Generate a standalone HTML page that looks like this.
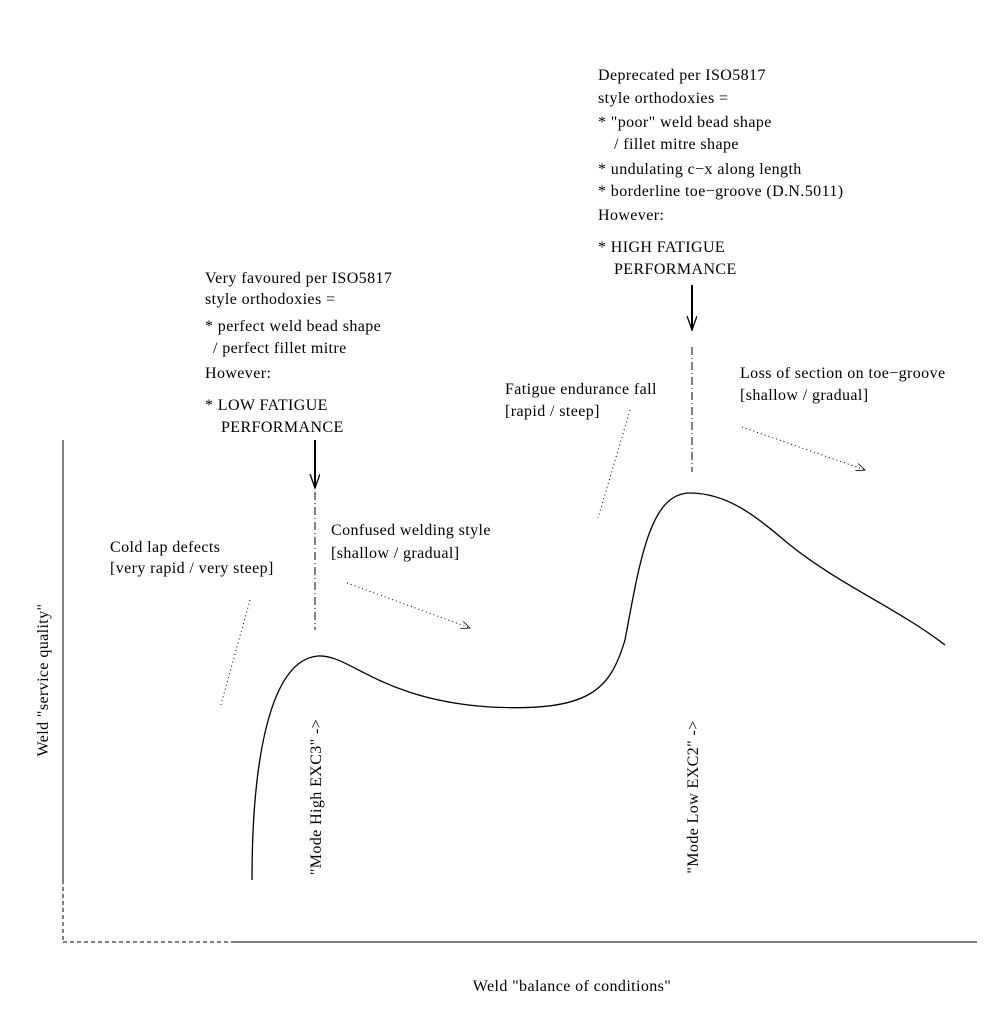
<!DOCTYPE html>
<html><head><meta charset="utf-8"><style>
html,body{margin:0;padding:0;background:#fff;}
svg text{font-family:"Liberation Serif",serif;font-size:16px;letter-spacing:0.4px;fill:#000;}
</style></head><body>
<svg width="1008" height="1008" viewBox="0 0 1008 1008" xmlns="http://www.w3.org/2000/svg">
<defs>
<marker id="ah" markerWidth="16" markerHeight="12" refX="14" refY="5" orient="auto" markerUnits="userSpaceOnUse">
<path d="M0,0 L14,5 L0,10" fill="none" stroke="#000" stroke-width="1.3"/>
</marker>
<marker id="sh" markerWidth="10" markerHeight="8" refX="9" refY="4" orient="auto" markerUnits="userSpaceOnUse">
<path d="M0,0 L9,4 L0,8" fill="none" stroke="#000" stroke-width="0.8"/>
</marker>
</defs>
<g stroke="#000" fill="none">
<line x1="63" y1="440" x2="63" y2="880" stroke-width="1"/>
<line x1="63" y1="880" x2="63" y2="942" stroke-dasharray="4,3"/>
<line x1="63" y1="942" x2="235" y2="942" stroke-dasharray="4,3"/>
<line x1="235" y1="942" x2="977" y2="942"/>
<path d="M252,880 C252,760 270,660 318,656 C350,654 380,700 490,707 C590,712 610,690 625,640 C640,560 650,493 690,493 C730,493 760,520 790,545 C840,585 900,610 945,645" stroke-width="1.3"/>
<line x1="315" y1="440" x2="315" y2="488" stroke-width="2" marker-end="url(#ah)"/>
<line x1="315" y1="492" x2="315" y2="630" stroke-dasharray="8,3,1,3"/>
<line x1="692" y1="285" x2="692" y2="330" stroke-width="2" marker-end="url(#ah)"/>
<line x1="692" y1="347" x2="692" y2="472" stroke-dasharray="8,3,1,3"/>
<g stroke-dasharray="1,3">
<line x1="250" y1="600" x2="220" y2="708"/>
<line x1="347" y1="583" x2="470" y2="628" marker-end="url(#sh)"/>
<line x1="630" y1="410" x2="598" y2="518"/>
<line x1="742" y1="427" x2="865" y2="470" marker-end="url(#sh)"/>
</g>
</g>
<text x="205" y="283">Very favoured per ISO5817</text>
<text x="205" y="304">style orthodoxies =</text>
<text x="205" y="331">* perfect weld bead shape</text>
<text x="213" y="353">/ perfect fillet mitre</text>
<text x="205" y="378">However:</text>
<text x="205" y="410">* LOW FATIGUE</text>
<text x="221" y="432">PERFORMANCE</text>
<text x="598" y="80">Deprecated per ISO5817</text>
<text x="598" y="103">style orthodoxies =</text>
<text x="598" y="127">* "poor" weld bead shape</text>
<text x="614" y="149">/ fillet mitre shape</text>
<text x="598" y="174">* undulating c−x along length</text>
<text x="598" y="196">* borderline toe−groove (D.N.5011)</text>
<text x="598" y="220">However:</text>
<text x="598" y="252">* HIGH FATIGUE</text>
<text x="614" y="274">PERFORMANCE</text>
<text x="110" y="552">Cold lap defects</text>
<text x="110" y="573">[very rapid / very steep]</text>
<text x="331" y="535">Confused welding style</text>
<text x="331" y="558">[shallow / gradual]</text>
<text x="505" y="394">Fatigue endurance fall</text>
<text x="505" y="416">[rapid / steep]</text>
<text x="740" y="378">Loss of section on toe−groove</text>
<text x="740" y="400">[shallow / gradual]</text>
<text x="572" y="991" text-anchor="middle">Weld "balance of conditions"</text>
<text transform="translate(48,680) rotate(-90)" text-anchor="middle">Weld "service quality"</text>
<text transform="translate(321,797) rotate(-90)" text-anchor="middle">"Mode High EXC3" -&gt;</text>
<text transform="translate(698,797) rotate(-90)" text-anchor="middle">"Mode Low EXC2" -&gt;</text>
</svg>
</body></html>
